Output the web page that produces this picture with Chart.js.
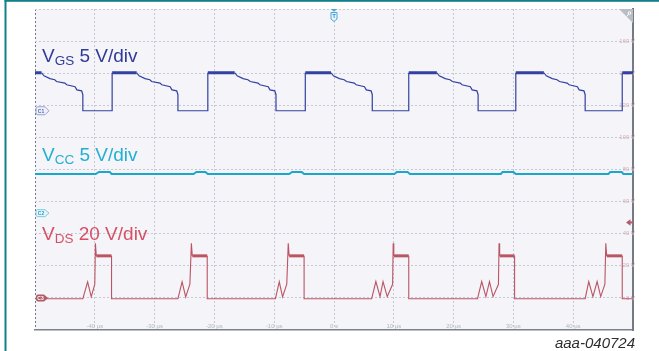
<!DOCTYPE html>
<html>
<head>
<meta charset="utf-8">
<script src="https://cdn.jsdelivr.net/npm/chart.js@4/dist/chart.umd.min.js"></script>
<style>
  html, body { margin: 0; padding: 0; background: #ffffff; }
  #wrap { position: relative; width: 659px; height: 351px; }
  canvas { display: block; }
</style>
</head>
<body>
<div id="wrap"><canvas id="scope"></canvas></div>
<script>
// ---- Captured waveforms (time in µs, amplitude in V) ----
// Gate-source voltage, 5 V/div
const vgsTime = [
  -50.0, -48.9, -48.5, -47.5, -46.7, -46.4, -45.0, -44.7, -43.3, -43.0, -42.2, -42.0, -42.0,
  -37.1, -37.1,
  -33.0, -32.6, -31.6, -30.8, -30.5, -29.1, -28.8, -27.4, -27.1, -26.3, -26.1, -26.1,
  -21.1, -21.1,
  -16.6, -16.2, -15.2, -14.4, -14.0, -12.7, -12.4, -11.0, -10.7, -9.9, -9.7, -9.7,
  -4.8, -4.8,
  -0.5, -0.1, 0.9, 1.7, 2.1, 3.4, 3.7, 5.1, 5.4, 6.2, 6.4, 6.4,
  12.5, 12.5,
  17.2, 17.6, 18.6, 19.4, 19.8, 21.1, 21.4, 22.8, 23.1, 23.9, 24.1, 24.1,
  30.4, 30.4,
  35.1, 35.5, 36.5, 37.3, 37.7, 39.0, 39.3, 40.7, 41.0, 41.8, 42.0, 42.0,
  48.2, 48.2, 50.0
];
const vgsVolts = [
  5.92, 5.92, 5.45, 5.0, 4.83, 4.55, 4.30, 4.05, 3.75, 3.25, 3.10, 2.50, 0,
  0, 5.92,
  5.92, 5.45, 5.0, 4.83, 4.55, 4.30, 4.05, 3.75, 3.25, 3.10, 2.50, 0,
  0, 5.92,
  5.92, 5.45, 5.0, 4.83, 4.55, 4.30, 4.05, 3.75, 3.25, 3.10, 2.50, 0,
  0, 5.92,
  5.92, 5.45, 5.0, 4.83, 4.55, 4.30, 4.05, 3.75, 3.25, 3.10, 2.50, 0,
  0, 5.92,
  5.92, 5.45, 5.0, 4.83, 4.55, 4.30, 4.05, 3.75, 3.25, 3.10, 2.50, 0,
  0, 5.92,
  5.92, 5.45, 5.0, 4.83, 4.55, 4.30, 4.05, 3.75, 3.25, 3.10, 2.50, 0,
  0, 5.92, 5.92
];

// Supply voltage, 5 V/div
const vccTime = [
  -50.0, -39.85, -39.3, -37.5, -37.2, -23.5, -23.0, -21.5, -21.1,
  -7.5, -7.0, -5.4, -5.0, 10.1, 10.5, 12.3, 12.7,
  27.9, 28.2, 30.0, 30.4, 45.9, 46.2, 48.1, 48.4, 50.0
];
const vccVolts = [
  6.1, 6.1, 6.42, 6.42, 6.1, 6.1, 6.42, 6.42, 6.1,
  6.1, 6.42, 6.42, 6.1, 6.1, 6.42, 6.42, 6.1,
  6.1, 6.42, 6.42, 6.1, 6.1, 6.42, 6.42, 6.1, 6.1
];

// Drain-source voltage, 20 V/div
const vdsTime = [
  -50.0, -42.0, -41.2, -40.6, -40.0, -39.9, -39.75, -37.2, -37.2,
  -26.1, -25.4, -24.8, -24.1, -23.85, -23.7, -21.2, -21.2,
  -9.8, -9.15, -8.6, -7.9, -7.65, -7.5, -5.0, -5.0,
  6.3, 7.0, 7.7, 8.2, 8.9, 9.8, 9.9, 10.0, 12.5, 12.5,
  24.0, 24.7, 25.4, 26.0, 26.6, 27.5, 27.6, 27.7, 30.2, 30.2,
  42.0, 42.6, 43.3, 44.0, 44.6, 45.3, 45.45, 45.6, 48.2, 48.2, 50.0
];
const vdsVolts = [
  -0.5, -0.5, 10.0, 0.6, 8.5, 34.0, 26.2, 26.2, -0.5,
  -0.5, 10.0, 0.6, 8.5, 34.0, 26.2, 26.2, -0.5,
  -0.5, 10.0, 0.6, 8.5, 34.0, 26.2, 26.2, -0.5,
  -0.5, 10.2, 0.8, 10.2, 0.8, 8.5, 34.0, 26.2, 26.2, -0.5,
  -0.5, 10.2, 0.8, 10.2, 0.8, 8.5, 34.0, 26.2, 26.2, -0.5,
  -0.5, 10.2, 0.8, 10.2, 0.8, 8.5, 34.0, 26.2, 26.2, -0.5, -0.5
];

// ---- Axis labels ----
const timeTickValues = [-40, -30, -20, -10, 0, 10, 20, 30, 40];
const timeTickLabels = ['-40 µs', '-30 µs', '-20 µs', '-10 µs', '0 s', '10 µs', '20 µs', '30 µs', '40 µs'];
const vdsTickValues = [0, 20, 40, 60, 80, 100, 120, 140, 160];
const vdsTickLabels = ['0 V', '20 V', '40 V', '60 V', '80 V', '100 V', '120 V', '140 V', '160 V'];

const channelLabels = [
  { main: 'V', sub: 'GS', rest: ' 5 V/div', color: '#2f3b96', baseline: 61.5 },
  { main: 'V', sub: 'CC', rest: ' 5 V/div', color: '#22b0d2', baseline: 160.5 },
  { main: 'V', sub: 'DS', rest: ' 20 V/div', color: '#d65066', baseline: 240 }
];
const figureId = 'aaa-040724';
const triggerLevel = 47; // on the VDS scale

const toPoints = (t, v) => t.map((x, i) => ({ x, y: v[i] }));

const FONT = '"Liberation Sans", Arial, sans-serif';

// Plot background and outer frame
const backdrop = {
  id: 'backdrop',
  beforeDraw(chart) {
    const { ctx, chartArea: a } = chart;
    ctx.save();
    ctx.fillStyle = '#ffffff';
    ctx.fillRect(0, 0, chart.width, chart.height);
    ctx.fillStyle = '#f4f4f9';
    ctx.fillRect(a.left, a.top, a.right - a.left, a.bottom - a.top);
    ctx.fillStyle = '#14808a';
    ctx.fillRect(4.5, 0, chart.width - 4.5, 1.8);
    ctx.fillRect(4.5, 0, 2, chart.height);
    ctx.restore();
  }
};

function tag(ctx, x0, y, w, h, fill, stroke, text, textColor) {
  ctx.beginPath();
  ctx.moveTo(x0 + 2, y - h / 2);
  ctx.lineTo(x0 + w - 4, y - h / 2);
  ctx.lineTo(x0 + w, y);
  ctx.lineTo(x0 + w - 4, y + h / 2);
  ctx.lineTo(x0 + 2, y + h / 2);
  ctx.quadraticCurveTo(x0, y + h / 2, x0, y + h / 2 - 2);
  ctx.lineTo(x0, y - h / 2 + 2);
  ctx.quadraticCurveTo(x0, y - h / 2, x0 + 2, y - h / 2);
  ctx.closePath();
  ctx.fillStyle = fill;
  ctx.fill();
  if (stroke) { ctx.strokeStyle = stroke; ctx.lineWidth = 1; ctx.stroke(); }
  ctx.fillStyle = textColor;
  ctx.font = 'bold 5px ' + FONT;
  ctx.textAlign = 'center';
  ctx.textBaseline = 'middle';
  ctx.fillText(text, x0 + (w - 3) / 2, y + 0.5);
}

// Channel ground tags, trigger markers and corner flag
const scopeMarks = {
  id: 'scopeMarks',
  afterDatasetsDraw(chart) {
    const { ctx, chartArea: a, scales } = chart;
    ctx.save();
    tag(ctx, a.left + 1, scales.yGS.getPixelForValue(0), 13, 8, '#eef0fa', '#95a3cf', 'C1', '#5a68a8');
    tag(ctx, a.left + 1, scales.yCC.getPixelForValue(0), 13, 7, '#e4f6fb', '#78cfe2', 'C2', '#3a9ab8');
    tag(ctx, a.left + 1, scales.yDS.getPixelForValue(0), 12, 7, '#b25a68', null, 'C3', '#ffffff');

    // trigger position
    const tx = scales.x.getPixelForValue(0);
    ctx.fillStyle = '#4aa6de';
    ctx.beginPath();
    ctx.moveTo(tx - 3.2, a.top); ctx.lineTo(tx + 3.2, a.top); ctx.lineTo(tx, a.top + 2.8);
    ctx.closePath(); ctx.fill();
    ctx.beginPath();
    ctx.moveTo(tx - 3, a.top + 3.5); ctx.lineTo(tx + 3, a.top + 3.5);
    ctx.lineTo(tx + 3, a.top + 10); ctx.lineTo(tx, a.top + 12.5);
    ctx.lineTo(tx - 3, a.top + 10); ctx.closePath();
    ctx.fillStyle = '#eaf5fc'; ctx.fill();
    ctx.strokeStyle = '#4aa6de'; ctx.lineWidth = 1; ctx.stroke();
    ctx.fillStyle = '#3a8fcf';
    ctx.font = 'bold 6px ' + FONT;
    ctx.textAlign = 'center'; ctx.textBaseline = 'middle';
    ctx.fillText('T', tx, a.top + 7.3);

    // trigger level
    const ty = scales.yDS.getPixelForValue(triggerLevel);
    ctx.fillStyle = '#b35a68';
    ctx.beginPath();
    ctx.moveTo(a.right - 7, ty); ctx.lineTo(a.right - 2.5, ty - 3.3); ctx.lineTo(a.right - 2.5, ty + 3.3);
    ctx.closePath(); ctx.fill();
    ctx.fillRect(a.right - 3, ty - 1, 3, 2);

    // corner flag
    ctx.fillStyle = '#b9bdc6';
    ctx.beginPath();
    ctx.moveTo(a.right - 14, a.top); ctx.lineTo(a.right, a.top); ctx.lineTo(a.right, a.top + 14);
    ctx.closePath(); ctx.fill();
    ctx.strokeStyle = '#ffffff'; ctx.lineWidth = 1;
    ctx.beginPath();
    ctx.moveTo(a.right - 6.5, a.top + 7.5); ctx.lineTo(a.right - 4, a.top + 5);
    ctx.stroke();
    ctx.beginPath();
    ctx.arc(a.right - 3.5, a.top + 4, 1.3, 0, Math.PI * 2);
    ctx.stroke();
    ctx.restore();
  },
  afterDraw(chart) {
    const { ctx } = chart;
    ctx.save();
    ctx.textAlign = 'left';
    ctx.textBaseline = 'alphabetic';
    for (const lab of channelLabels) {
      let x = 42;
      ctx.fillStyle = lab.color;
      ctx.font = '19px ' + FONT;
      ctx.fillText(lab.main, x, lab.baseline);
      x += ctx.measureText(lab.main).width;
      ctx.font = '13.5px ' + FONT;
      ctx.fillText(lab.sub, x, lab.baseline + 3);
      x += ctx.measureText(lab.sub).width;
      ctx.font = '19px ' + FONT;
      ctx.fillText(lab.rest, x, lab.baseline);
    }
    ctx.fillStyle = '#2e2e2e';
    ctx.font = 'italic 15px ' + FONT;
    ctx.textAlign = 'right';
    ctx.fillText(figureId, 635, 348);
    ctx.restore();
  }
};

const thickWhenFlat = (level) => (c) => {
  const a = c.p0.parsed.y, b = c.p1.parsed.y;
  return (Math.abs(a - b) < 0.01 && a > level) ? 3 : undefined;
};

new Chart(document.getElementById('scope'), {
  type: 'line',
  data: {
    datasets: [
      {
        label: 'VGS',
        data: toPoints(vgsTime, vgsVolts),
        yAxisID: 'yGS',
        borderColor: '#3341a0',
        borderWidth: 1.2,
        pointRadius: 0,
        tension: 0,
        segment: { borderWidth: thickWhenFlat(5.5) }
      },
      {
        label: 'VCC',
        data: toPoints(vccTime, vccVolts),
        yAxisID: 'yCC',
        borderColor: '#1aa7cc',
        borderWidth: 2,
        pointRadius: 0,
        tension: 0
      },
      {
        label: 'VDS',
        data: toPoints(vdsTime, vdsVolts),
        yAxisID: 'yDS',
        borderColor: '#bb5563',
        borderWidth: 1.1,
        pointRadius: 0,
        tension: 0,
        segment: { borderWidth: thickWhenFlat(20) }
      }
    ]
  },
  options: {
    responsive: true,
    maintainAspectRatio: false,
    animation: false,
    events: [],
    layout: { padding: { left: 35, top: 9, right: 26, bottom: 21 } },
    plugins: { legend: { display: false }, tooltip: { enabled: false } },
    scales: {
      x: {
        type: 'linear',
        min: -50,
        max: 50,
        afterFit: (s) => { s.height = 0; },
        grid: {
          drawTicks: false,
          lineWidth: 1,
          color: (c) => {
            const v = c.tick ? Math.round(c.tick.value) : null;
            if (v === -50) return '#6f7788';
            if (v === 50) return 'rgba(0,0,0,0)';
            return '#c6c8d4';
          }
        },
        border: { display: true, color: '#7d818b', width: 1.5, dash: [2, 2] },
        ticks: {
          stepSize: 10,
          autoSkip: false,
          maxRotation: 0,
          mirror: true,
          padding: 0,
          color: '#b3b5c1',
          font: { family: FONT, size: 6 },
          callback: (v) => {
            const i = timeTickValues.indexOf(Math.round(v));
            return i >= 0 ? timeTickLabels[i] : '';
          }
        }
      },
      yGS: { type: 'linear', display: false, min: -34.15, max: 15.85 },
      yCC: { type: 'linear', display: false, min: -18.2, max: 31.8 },
      yDS: {
        type: 'linear',
        position: 'right',
        min: -20,
        max: 180,
        afterFit: (s) => { s.width = 0; },
        grid: {
          drawTicks: false,
          lineWidth: 1,
          color: (c) => {
            const v = c.tick ? Math.round(c.tick.value) : null;
            return v === -20 ? 'rgba(0,0,0,0)' : '#c6c8d4';
          }
        },
        border: { display: true, color: '#767a85', width: 2, dash: [2, 2] },
        ticks: {
          stepSize: 20,
          autoSkip: false,
          mirror: true,
          padding: 2,
          color: '#d6b0b5',
          font: { family: FONT, size: 6 },
          callback: (v) => {
            const i = vdsTickValues.indexOf(Math.round(v));
            return i >= 0 ? vdsTickLabels[i] : '';
          }
        }
      }
    }
  },
  plugins: [backdrop, scopeMarks]
});
</script>
</body>
</html>
